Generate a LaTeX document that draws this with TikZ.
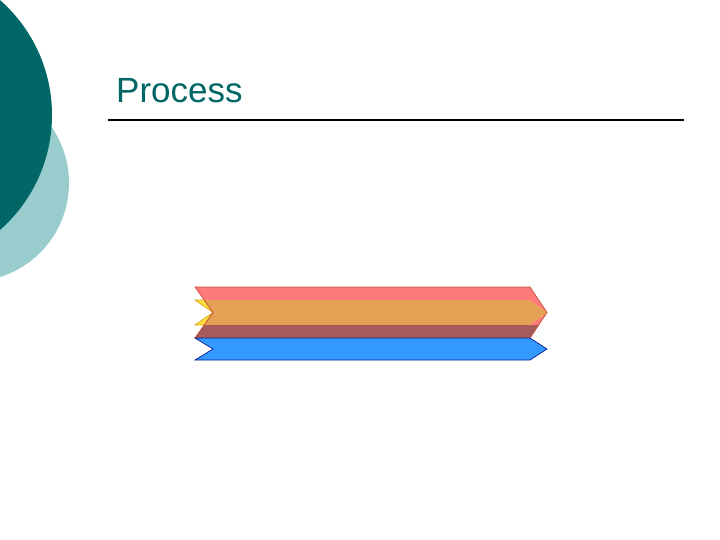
\documentclass[tikz,border=0pt]{standalone}
\usepackage{fontspec}
\setmainfont{Liberation Sans}
\usetikzlibrary{positioning}
\definecolor{tealdark}{RGB}{0,102,102}
\definecolor{teallight}{RGB}{153,204,204}
\definecolor{salmon}{RGB}{255,122,122}
\definecolor{redline}{RGB}{196,80,60}
\definecolor{goldy}{RGB}{255,226,60}
\definecolor{goldline}{RGB}{222,160,20}
\definecolor{orangemix}{RGB}{228,160,84}
\definecolor{brownmix}{RGB}{166,92,92}
\definecolor{skyblue}{RGB}{51,153,255}
\definecolor{navy}{RGB}{10,30,150}
\tikzset{
  chev/.style={line width=0.7pt,line join=miter},
  rule/.style={line width=2pt},
  every node/.style={font=\fontsize{35}{42}\selectfont}
}

\begin{document}
\begin{tikzpicture}[x=1pt,y=-1pt]
  \useasboundingbox (0,0) rectangle (720,540);
  \fill[white] (0,0) rectangle (720,540);
  \fill[teallight] (-29.5,183) circle (98.5pt);
  \fill[tealdark] (-101,115) circle (153pt);
  \node[anchor=base west,inner sep=0pt,text=tealdark] (title) at (116,103) {Process};
  \coordinate (rulel) at (108,120);
  \coordinate (ruler) at (684,120);
  \draw[rule] (rulel) -- (ruler);
  \fill[salmon] (195,287) -- (530,287) -- (547,312.5) -- (530,338)
    -- (195,338) -- (213,312.5) -- cycle;
  \fill[goldy] (195,300) -- (529,300) -- (547,312.5) -- (529,325)
    -- (195,325) -- (213,312.5) -- cycle;
  \begin{scope}
    \clip (195,287) -- (530,287) -- (547,312.5) -- (530,338)
      -- (195,338) -- (213,312.5) -- cycle;
    \fill[orangemix] (195,300) -- (529,300) -- (547,312.5) -- (529,325)
      -- (195,325) -- (213,312.5) -- cycle;
    \fill[brownmix] (190,325) rectangle (550,338);
  \end{scope}
  \draw[chev,draw=goldline] (195,300) -- (204,300) -- (213,312.5)
    -- (204,325) -- (195,325) -- (213,312.5) -- cycle;
  \draw[chev,draw=redline] (195,287) -- (530,287) -- (547,312.5) -- (530,338)
    -- (195,338) -- (213,312.5) -- cycle;
  \filldraw[chev,fill=skyblue,draw=navy] (195,338) -- (530,338) -- (547,349)
    -- (530,360) -- (195,360) -- (213,349) -- cycle;
\end{tikzpicture}
\end{document}
